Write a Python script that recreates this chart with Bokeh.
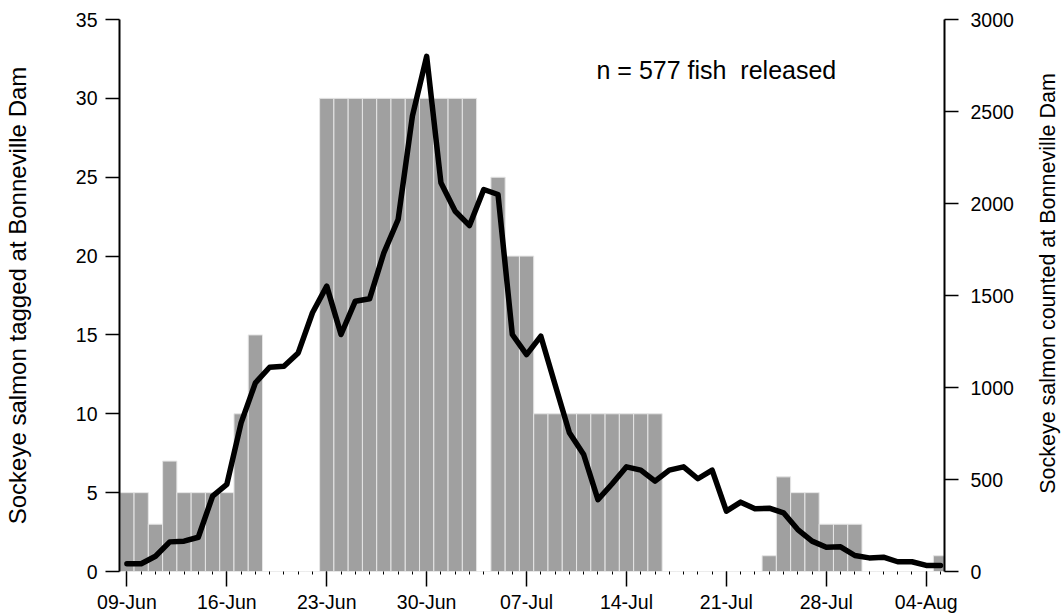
import math
from bokeh.plotting import figure
from bokeh.layouts import row
from bokeh.models import Range1d, LinearAxis, FixedTicker, Label
from bokeh.embed import file_html
from bokeh.resources import INLINE

# Daily values, day 0 = 09-Jun through day 57 = 05-Aug
tagged = [5, 5, 3, 7, 5, 5, 5, 5, 10, 15,
          0, 0, 0, 0,
          30, 30, 30, 30, 30, 30, 30, 30, 30, 30, 30,
          0,
          25, 20, 20,
          10, 10, 10, 10, 10, 10, 10, 10, 10,
          0, 0, 0, 0, 0, 0, 0,
          1, 6, 5, 5, 3, 3, 3,
          0, 0, 0, 0, 0,
          1]
counted = [42, 42, 83, 161, 165, 186, 409, 473, 808, 1025,
           1110, 1116, 1188, 1406, 1551, 1288, 1469, 1482, 1732, 1913,
           2475, 2800, 2113, 1958, 1880, 2076, 2049, 1288, 1179, 1279,
           1015, 754, 636, 391, 477, 569, 551, 491, 551, 569,
           504, 551, 328, 377, 341, 344, 319, 228, 165, 132,
           134, 87, 74, 78, 53, 53, 33, 33]
days = list(range(len(tagged)))

date_ticks = [0, 7, 14, 21, 28, 35, 42, 49, 56]
date_labels = ["09-Jun", "16-Jun", "23-Jun", "30-Jun", "07-Jul",
               "14-Jul", "21-Jul", "28-Jul", "04-Aug"]
left_ticks = [0, 5, 10, 15, 20, 25, 30, 35]
right_ticks = [0, 500, 1000, 1500, 2000, 2500, 3000]

left_title = "Sockeye salmon tagged at Bonneville Dam"
right_title = "Sockeye salmon counted at Bonneville Dam"
note_text = "n = 577 fish \u00a0released"

FONT = "Liberation Sans"
RIGHT_W, H = 33, 615
MAIN_W = 1061 - RIGHT_W

p = figure(width=MAIN_W, height=H, output_backend="svg", toolbar_location=None,
           x_range=Range1d(-0.52, 57.28), y_range=Range1d(0, 35),
           min_border_left=118, min_border_right=MAIN_W - 944,
           min_border_top=19, min_border_bottom=43)
p.extra_y_ranges = {"count": Range1d(0, 3000)}
p.grid.visible = False
p.outline_line_color = None
p.background_fill_color = "white"
p.border_fill_color = "white"

p.vbar(x=days, top=tagged, width=1.0, fill_color="#a0a0a0",
       line_color="#e6e6e6", line_width=1)
p.line(x=days, y=counted, y_range_name="count", line_color="black",
       line_width=5.5, line_join="round", line_cap="round")


def style_axis(ax):
    ax.major_label_text_font = FONT
    ax.major_label_text_font_size = "19.5px"
    ax.major_label_text_color = "black"
    ax.major_tick_line_color = "black"
    ax.major_tick_line_width = 1.5
    ax.axis_label_text_font = FONT
    ax.axis_label_text_font_size = "24px"
    ax.axis_label_text_font_style = "normal"
    ax.axis_label_text_color = "black"


# bottom date axis
xa = p.xaxis[0]
xa.ticker = FixedTicker(ticks=date_ticks, minor_ticks=days)
xa.major_label_overrides = {t: lab for t, lab in zip(date_ticks, date_labels)}
style_axis(xa)
xa.axis_line_color = None
xa.major_tick_in = 0
xa.major_tick_out = 15
xa.minor_tick_in = 0
xa.minor_tick_out = 3
xa.minor_tick_line_color = "black"
xa.minor_tick_line_width = 1
xa.major_label_standoff = 4

# left axis: tagged fish
ya = p.yaxis[0]
ya.ticker = FixedTicker(ticks=left_ticks)
ya.axis_label = left_title
style_axis(ya)
ya.axis_line_width = 2
ya.major_tick_in = 0
ya.major_tick_out = 14
ya.minor_tick_line_color = None
ya.major_label_standoff = 8
ya.axis_label_standoff = 42

# right axis: dam counts
yr = LinearAxis(y_range_name="count", ticker=FixedTicker(ticks=right_ticks))
style_axis(yr)
yr.axis_line_width = 2
yr.major_tick_in = 0
yr.major_tick_out = 14
yr.minor_tick_line_color = None
yr.major_label_standoff = 12
p.add_layout(yr, "right")

note = Label(x=32.9, y=31.8, text=note_text,
             text_font=FONT, text_font_size="25px", text_color="black",
             text_baseline="middle", text_align="left")
p.add_layout(note)

# narrow strip on the right carrying the right-hand title, reading bottom to top
side = figure(width=RIGHT_W, height=H, output_backend="svg", toolbar_location=None,
              x_range=Range1d(0, 1), y_range=Range1d(0, 1),
              min_border=0, min_border_left=0, min_border_right=0,
              min_border_top=0, min_border_bottom=0)
side.axis.visible = False
side.grid.visible = False
side.outline_line_color = None
side.background_fill_color = "white"
side.border_fill_color = "white"
side.add_layout(Label(x=19, y=288, x_units="screen", y_units="screen",
                      text=right_title, angle=math.pi / 2, angle_units="rad",
                      text_font=FONT, text_font_size="21.5px", text_color="black",
                      text_align="center", text_baseline="middle"))

layout = row(p, side, spacing=0)
open("out.html", "w").write(file_html(layout, INLINE))
